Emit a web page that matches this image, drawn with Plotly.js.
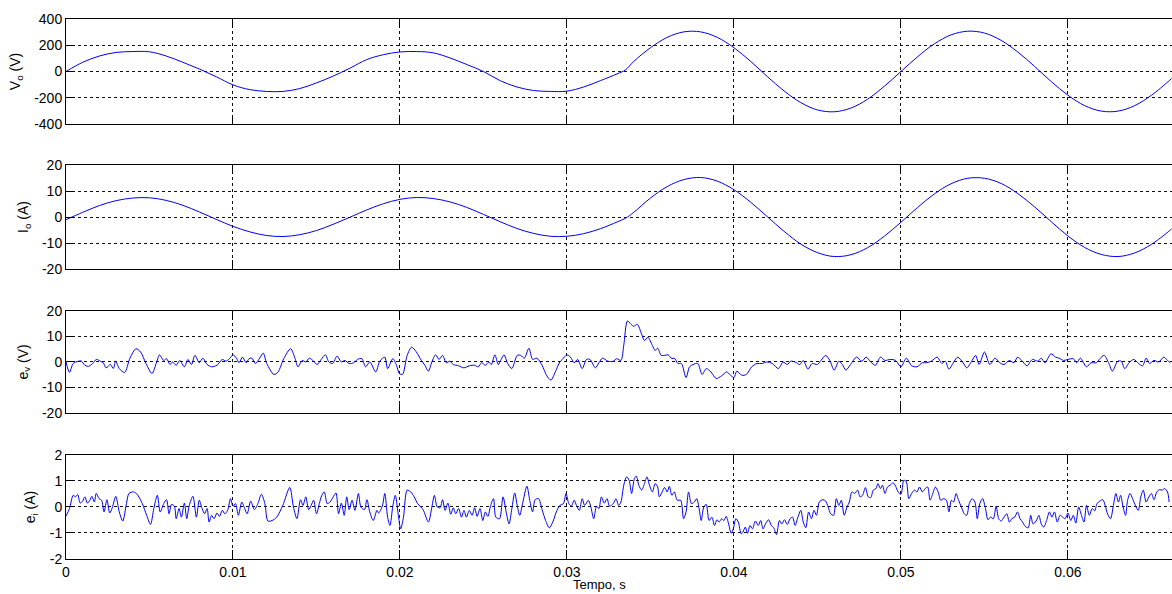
<!DOCTYPE html>
<html>
<head>
<meta charset="utf-8">
<script src="https://cdn.plot.ly/plotly-3.0.1.min.js"></script>
<style>html,body{margin:0;padding:0;background:#fff;}#chart{width:1172px;height:594px;}</style>
</head>
<body>
<div id="chart"></div>
<script>
// time base for output voltage / current (s)
var tSine = [0,0.001,0.002,0.003,0.004,0.005,0.006,0.007,0.008,0.009,0.010,0.011,0.012,0.013,0.014,0.015,0.016,0.017,0.018,0.019,0.020,0.021,0.022,0.023,0.024,0.025,0.026,0.027,0.028,0.029,0.030,0.031,0.032,0.033,0.0335,0.034,0.035,0.036,0.037,0.038,0.039,0.040,0.041,0.042,0.043,0.044,0.045,0.046,0.047,0.048,0.049,0.050,0.051,0.052,0.053,0.054,0.055,0.056,0.057,0.058,0.059,0.060,0.061,0.062,0.063,0.064,0.065,0.066,0.0662];
var vo = [0,70,118,145,152,150,118,70,18,-40,-102,-138,-152,-152,-130,-87,-35,25,90,128,149,152,142,103,53,0,-70,-118,-145,-152,-150,-118,-70,-18,12,77,181,260,302,302,260,181,77,-39,-148,-237,-293,-307,-279,-211,-113,0,113,211,279,307,293,237,148,39,-77,-181,-260,-302,-302,-260,-181,-77,-54];
var io = [-1.0,1.8,4.4,6.3,7.3,7.4,6.4,4.5,1.9,-0.9,-3.6,-5.7,-7.1,-7.5,-6.8,-5.2,-2.8,-0.1,2.7,5.1,6.8,7.5,7.1,5.8,3.7,1.0,-1.8,-4.4,-6.3,-7.4,-7.4,-6.4,-4.5,-1.9,-0.5,1.8,7.3,11.7,14.4,15.2,13.8,10.5,5.7,0.1,-5.5,-10.4,-13.7,-15.2,-14.5,-11.8,-7.4,-2.0,3.7,8.9,12.8,14.9,14.9,12.9,9.0,3.9,-1.8,-7.3,-11.7,-14.4,-15.2,-13.8,-10.5,-5.7,-4.6];

// voltage error e_v (V)
var tEv = [0,0.00021,0.00043,0.00074,0.00091,0.00113,0.00134,0.00160,0.00181,0.00206,0.00223,0.00240,0.00266,0.00283,0.00298,0.00319,0.00351,0.00383,0.00419,0.00447,0.00479,0.00515,0.00543,0.00560,0.00585,0.00602,0.00623,0.00638,0.00660,0.00681,0.00709,0.00730,0.00751,0.00772,0.00798,0.00819,0.00845,0.00872,0.00904,0.00936,0.00957,0.00979,0.01000,0.01021,0.01036,0.01057,0.01079,0.01096,0.01113,0.01134,0.01160,0.01181,0.01202,0.01245,0.01270,0.01304,0.01345,0.01372,0.01389,0.01415,0.01436,0.01457,0.01483,0.01504,0.01528,0.01553,0.01574,0.01596,0.01623,0.01649,0.01670,0.01696,0.01723,0.01745,0.01772,0.01794,0.01819,0.01855,0.01879,0.01909,0.01926,0.01957,0.01979,0.01996,0.02015,0.02043,0.02070,0.02096,0.02128,0.02149,0.02170,0.02191,0.02213,0.02234,0.02255,0.02277,0.02298,0.02319,0.02351,0.02383,0.02415,0.02447,0.02468,0.02489,0.02511,0.02532,0.02547,0.02568,0.02589,0.02606,0.02623,0.02645,0.02670,0.02702,0.02723,0.02745,0.02772,0.02794,0.02819,0.02851,0.02879,0.02904,0.02930,0.02957,0.02972,0.03000,0.03021,0.03043,0.03064,0.03091,0.03117,0.03138,0.03170,0.03191,0.03213,0.03245,0.03277,0.03298,0.03323,0.03340,0.03362,0.03383,0.03400,0.03421,0.03447,0.03464,0.03485,0.03511,0.03528,0.03543,0.03564,0.03585,0.03606,0.03628,0.03643,0.03664,0.03685,0.03713,0.03734,0.03755,0.03783,0.03809,0.03834,0.03862,0.03894,0.03926,0.03957,0.03979,0.04000,0.04017,0.04047,0.04074,0.04106,0.04138,0.04170,0.04196,0.04230,0.04266,0.04294,0.04319,0.04340,0.04366,0.04394,0.04415,0.04443,0.04468,0.04500,0.04521,0.04549,0.04574,0.04600,0.04628,0.04649,0.04670,0.04698,0.04734,0.04766,0.04791,0.04819,0.04847,0.04877,0.04904,0.04936,0.04968,0.05000,0.05032,0.05064,0.05096,0.05128,0.05153,0.05181,0.05217,0.05245,0.05266,0.05287,0.05319,0.05340,0.05372,0.05394,0.05426,0.05447,0.05468,0.05500,0.05532,0.05564,0.05591,0.05617,0.05649,0.05677,0.05698,0.05723,0.05755,0.05787,0.05819,0.05840,0.05862,0.05898,0.05926,0.05947,0.05974,0.06000,0.06032,0.06053,0.06074,0.06111,0.06138,0.06170,0.06191,0.06217,0.06245,0.06266,0.06298,0.06319,0.06340,0.06366,0.06394,0.06423,0.06447,0.06468,0.06489,0.06515,0.06543,0.06574,0.06596,0.06613];
var ev = [0,-4.1,-0.6,0.3,0.4,-1.3,-1.7,-0.6,1.0,0.3,-0.3,-2.3,-1.0,-2.6,0.3,-2.6,-4.1,1.5,5.2,3.9,-0.6,-4.5,0,2.8,0.6,1.3,-1.0,0,-1.3,0.6,-1.9,1.0,-1.0,2.6,-0.3,1.5,-1.0,-1.9,-1.3,1.0,0.3,1.3,2.8,1.5,-0.3,1.9,-0.3,1.3,1.5,-0.6,1.5,3.5,-0.6,-4.9,-3.9,1.3,5.2,1.3,-1.9,0.6,0,1.5,0.3,-1.0,1.0,2.8,0,-0.6,2.3,0,0.6,-0.6,-0.3,1.0,1.3,-1.9,0,-3.9,0.3,1.9,-2.6,1.3,-1.3,-4.5,-4.9,2.6,5.8,4.1,0.6,-1.3,-3.6,0,2.8,1.0,2.6,-0.3,0.3,-1.0,-1.5,-2.3,-1.5,-1.3,-1.9,-0.3,-1.3,0,-1.0,2.8,-1.0,1.0,2.8,-0.6,-2.6,2.6,2.6,1.5,5.4,1.0,1.5,-1.3,-5.4,-7.1,-3.9,0,1.0,2.8,1.9,-0.3,1.0,-2.6,1.0,1.0,-2.3,-0.3,1.5,0.3,0.3,1.3,0.6,6.5,16.1,14.8,14.0,14.8,10.9,8.4,9.7,6.5,4.5,5.4,2.6,2.6,2.8,1.3,1.5,-0.6,-0.6,-6.1,-1.9,-1.0,-0.6,-4.9,-2.6,-3.9,-6.5,-5.4,-3.9,-5.2,-6.1,-3.6,-5.2,-4.9,-1.9,-0.6,-0.6,0,-0.6,-2.6,0,-1.0,0.3,0,-1.0,0.6,-2.8,-0.6,-1.0,0.6,2.6,0.6,-3.2,0.3,-1.0,-3.2,-1.0,1.9,0.3,1.9,0,-1.3,1.9,0.6,1.0,0.6,-1.9,1.5,-1.5,-1.9,-0.3,-0.3,0.3,1.9,-0.6,0.3,-2.8,0.3,1.9,-0.3,-2.3,0.6,2.6,-1.0,3.9,-1.0,1.5,-0.3,-1.0,0.6,-0.3,1.9,0.6,-1.5,1.0,0.3,1.5,-0.3,3.2,1.9,1.5,0.6,1.0,1.3,-0.3,1.5,-1.9,-0.3,-0.3,1.3,2.6,-0.6,-3.6,0.3,0.3,-2.6,-0.3,1.0,-0.6,-1.5,1.5,-0.6,0.6,0,1.9,0.6,-0.3];

// current error e_i (A)
var tEi = [0,0.00021,0.00043,0.00057,0.00070,0.00085,0.00100,0.00113,0.00128,0.00143,0.00155,0.00170,0.00181,0.00198,0.00213,0.00228,0.00245,0.00262,0.00277,0.00298,0.00319,0.00340,0.00362,0.00377,0.00404,0.00426,0.00457,0.00483,0.00506,0.00526,0.00547,0.00564,0.00585,0.00602,0.00617,0.00632,0.00649,0.00660,0.00677,0.00691,0.00709,0.00723,0.00738,0.00760,0.00781,0.00798,0.00815,0.00830,0.00845,0.00857,0.00872,0.00887,0.00904,0.00919,0.00936,0.00951,0.00968,0.00985,0.01000,0.01015,0.01032,0.01053,0.01070,0.01085,0.01106,0.01128,0.01149,0.01170,0.01191,0.01209,0.01234,0.01262,0.01298,0.01340,0.01362,0.01383,0.01404,0.01419,0.01436,0.01453,0.01468,0.01483,0.01500,0.01517,0.01532,0.01547,0.01564,0.01581,0.01602,0.01617,0.01632,0.01649,0.01666,0.01681,0.01696,0.01713,0.01730,0.01751,0.01766,0.01787,0.01802,0.01819,0.01840,0.01862,0.01872,0.01894,0.01909,0.01926,0.01940,0.01957,0.01972,0.01989,0.02004,0.02021,0.02043,0.02064,0.02085,0.02106,0.02138,0.02170,0.02191,0.02206,0.02223,0.02240,0.02255,0.02270,0.02287,0.02304,0.02319,0.02334,0.02351,0.02368,0.02383,0.02398,0.02415,0.02432,0.02447,0.02462,0.02479,0.02496,0.02511,0.02526,0.02543,0.02560,0.02574,0.02596,0.02617,0.02638,0.02653,0.02670,0.02687,0.02702,0.02717,0.02734,0.02760,0.02777,0.02794,0.02809,0.02830,0.02851,0.02872,0.02894,0.02915,0.02936,0.02957,0.02979,0.02994,0.03011,0.03026,0.03043,0.03057,0.03074,0.03091,0.03106,0.03128,0.03143,0.03160,0.03177,0.03191,0.03206,0.03223,0.03240,0.03255,0.03277,0.03294,0.03309,0.03323,0.03340,0.03357,0.03372,0.03387,0.03404,0.03415,0.03430,0.03447,0.03464,0.03479,0.03494,0.03511,0.03528,0.03543,0.03553,0.03570,0.03585,0.03600,0.03613,0.03628,0.03643,0.03660,0.03681,0.03698,0.03713,0.03728,0.03745,0.03762,0.03777,0.03791,0.03804,0.03819,0.03834,0.03851,0.03868,0.03883,0.03898,0.03911,0.03926,0.03940,0.03953,0.03968,0.03983,0.03996,0.04011,0.04026,0.04043,0.04053,0.04068,0.04081,0.04096,0.04111,0.04128,0.04145,0.04160,0.04174,0.04191,0.04208,0.04223,0.04238,0.04255,0.04272,0.04287,0.04302,0.04319,0.04336,0.04351,0.04366,0.04383,0.04400,0.04415,0.04430,0.04447,0.04464,0.04479,0.04494,0.04511,0.04532,0.04549,0.04564,0.04579,0.04596,0.04613,0.04628,0.04643,0.04660,0.04677,0.04691,0.04706,0.04723,0.04740,0.04755,0.04770,0.04787,0.04804,0.04819,0.04834,0.04851,0.04862,0.04877,0.04889,0.04904,0.04919,0.04936,0.04953,0.04968,0.04983,0.05000,0.05017,0.05032,0.05047,0.05064,0.05081,0.05096,0.05111,0.05128,0.05145,0.05160,0.05174,0.05191,0.05206,0.05223,0.05238,0.05255,0.05272,0.05287,0.05302,0.05315,0.05330,0.05345,0.05362,0.05379,0.05394,0.05409,0.05426,0.05443,0.05457,0.05472,0.05489,0.05506,0.05521,0.05536,0.05553,0.05570,0.05585,0.05600,0.05617,0.05634,0.05649,0.05664,0.05681,0.05698,0.05713,0.05728,0.05745,0.05762,0.05777,0.05791,0.05809,0.05826,0.05840,0.05855,0.05872,0.05889,0.05904,0.05919,0.05936,0.05953,0.05968,0.05983,0.06000,0.06017,0.06032,0.06047,0.06064,0.06081,0.06096,0.06111,0.06128,0.06145,0.06160,0.06174,0.06191,0.06209,0.06223,0.06238,0.06255,0.06272,0.06287,0.06302,0.06315,0.06330,0.06345,0.06357,0.06372,0.06387,0.06404,0.06421,0.06436,0.06451,0.06468,0.06485,0.06500,0.06515,0.06532,0.06549,0.06564,0.06579,0.06596,0.06606];
var ei = [-0.35,-0.06,0.45,0.39,0.48,0.15,0.23,0.39,0.15,0.26,0.41,0.19,0.52,0.32,0.26,-0.19,0.28,-0.23,-0.03,0.41,-0.19,-0.54,0.13,0.52,0.58,0.49,0.13,-0.32,-0.67,-0.06,0.45,-0.19,0.13,0.28,-0.26,0.10,0.03,-0.45,-0.06,-0.39,0.15,-0.45,0.06,0.41,-0.39,0.26,-0.06,-0.26,-0.06,-0.58,-0.32,-0.45,-0.23,-0.36,-0.13,-0.26,-0.13,0.32,0.03,0.13,-0.32,0.19,-0.06,-0.26,0.23,-0.10,0.13,0.49,0.13,-0.54,-0.52,-0.39,0.06,0.75,0,-0.45,0.28,0.06,0.39,-0.10,0.06,0.26,-0.26,0.13,0.45,0.58,0.13,0.19,0.41,0.54,-0.26,0.15,-0.32,0.39,-0.10,0.26,-0.13,0.52,0,-0.10,0.28,-0.19,-0.52,-0.13,-0.23,0.03,0.52,-0.39,-0.71,0.03,0.45,-0.26,-0.84,-0.39,0.65,0.58,0.39,0.13,-0.10,-0.58,0,0.45,0,-0.03,0.28,-0.13,0.15,-0.28,-0.03,-0.26,-0.06,-0.39,-0.13,-0.39,-0.13,-0.32,-0.03,-0.36,-0.06,-0.52,-0.19,-0.36,0.06,0.32,-0.39,-0.45,0.39,-0.26,-0.65,-0.06,0.54,0.06,-0.32,0.13,0.80,0.26,-0.19,0.28,0.32,-0.10,-0.52,-0.80,-0.58,-0.19,0.06,0.13,0.52,0.13,0.03,0.26,0.06,-0.13,0.32,0.06,0.26,0,-0.45,0.03,-0.06,0.39,0.15,0.32,0.03,0.13,0.32,0.06,0.19,0.84,1.16,1.03,0.52,1.10,1.19,0.84,0.65,0.90,1.16,0.84,0.58,0.90,0.77,0.39,0.58,0.75,0.58,0.80,0.45,0.58,0.26,0.26,-0.45,-0.19,0.58,0.13,0.19,0.32,-0.06,-0.52,0,0.10,-0.52,-0.39,-0.71,-0.49,-0.58,-0.45,-0.52,-0.36,-0.65,-1.01,-0.84,-0.45,-0.58,-1.03,-0.97,-0.77,-1.01,-0.71,-0.84,-0.54,-0.71,-0.52,-0.84,-0.62,-0.49,-0.71,-0.80,-1.06,-0.52,-0.65,-0.49,-0.67,-0.45,-0.39,-0.71,-0.39,-0.13,-0.58,-0.80,-0.19,-0.45,-0.13,-0.32,0.19,0.28,0.23,0,-0.26,-0.32,0.32,0.06,0.26,-0.32,0,0.19,0.58,0.52,0.65,0.39,0.45,0.75,0.39,0.36,0.65,0.71,0.90,0.71,0.84,0.52,0.77,0.84,0.93,0.80,0.58,0.49,1.03,0.97,0.32,0.52,0.65,0.58,0.77,0.58,0.71,0.77,0.26,0.52,0.77,0.58,0.26,0.32,0.26,-0.19,0.26,0.19,0.52,0.26,0,-0.26,-0.32,0.13,0.32,0.19,-0.45,0.13,0.32,-0.06,-0.49,-0.39,-0.45,0.03,-0.45,-0.54,-0.39,-0.26,-0.58,-0.45,-0.39,-0.19,-0.45,-0.58,-0.75,-0.80,-0.32,-0.65,-0.54,-0.32,-0.65,-0.77,-0.52,-0.19,-0.39,-0.19,-0.58,-0.32,-0.39,-0.45,-0.23,-0.52,-0.32,-0.62,0,-0.32,-0.58,0.06,-0.32,-0.06,-0.15,0.13,0.23,0.28,0.06,-0.28,-0.45,0.06,0.52,0.19,0.45,0,-0.32,0.26,0.52,0.32,0.06,-0.13,0.39,0.65,0.19,0.39,0.52,0.28,0.58,0.67,0.65,0.71,0.58,0.19];

// tick values / labels
var xTicks = [0,0.01,0.02,0.03,0.04,0.05,0.06];
var xTickText = ['0','0.01','0.02','0.03','0.04','0.05','0.06'];
var voTicks = [-400,-200,0,200,400];
var voTickText = ['-400','-200','0','200','400'];
var io20Ticks = [-20,-10,0,10,20];
var io20TickText = ['-20','-10','0','10','20'];
var eiTicks = [-2,-1,0,1,2];
var eiTickText = ['-2','-1','0','1','2'];

var FONT = 'Liberation Sans, Arial, Helvetica, sans-serif';
var blue = '#0000ff';

function tr(x, y, ax, smooth) {
  return {x: x, y: y, xaxis: 'x' + ax, yaxis: 'y' + ax, type: 'scatter', mode: 'lines',
    line: {color: blue, width: 1, shape: 'spline', smoothing: smooth}, hoverinfo: 'skip', showlegend: false};
}
var data = [
  tr(tSine, vo, '', 1.0),
  tr(tSine, io, '2', 1.0),
  tr(tEv, ev, '3', 0.8),
  tr(tEi, ei, '4', 0.8)
];

function xax(anchor, labels) {
  return {anchor: anchor, domain: [0, 1], range: [0, 0.06623], tickmode: 'array', tickvals: xTicks, ticktext: xTickText,
    showticklabels: labels, ticks: 'inside', ticklen: 9, tickcolor: '#000', tickwidth: 1,
    showline: true, linecolor: '#000', linewidth: 1, mirror: 'ticks',
    showgrid: true, gridcolor: '#111', gridwidth: 1, griddash: '3px,3px', zeroline: false,
    tickfont: {family: FONT, size: 14, color: '#000'}, fixedrange: true};
}
function yax(anchor, dom, rng, tv, tt, title) {
  return {anchor: anchor, domain: dom, range: rng, tickmode: 'array', tickvals: tv, ticktext: tt,
    ticks: 'inside', ticklen: 9, tickcolor: '#000', tickwidth: 1,
    showline: true, linecolor: '#000', linewidth: 1, mirror: false,
    showgrid: true, gridcolor: '#111', gridwidth: 1, griddash: '3px,3px', zeroline: false,
    tickfont: {family: FONT, size: 14, color: '#000'}, fixedrange: true,
    title: {text: title, font: {family: FONT, size: 14, color: '#000'}, standoff: 10}};
}

var layout = {
  width: 1172, height: 594,
  margin: {l: 66, r: 0, t: 19, b: 35},
  paper_bgcolor: '#fff', plot_bgcolor: '#fff',
  showlegend: false,
  xaxis: xax('y', false),
  xaxis2: xax('y2', false),
  xaxis3: xax('y3', false),
  xaxis4: xax('y4', true),
  yaxis: yax('x', [0.8056, 1.0], [-400, 400], voTicks, voTickText, 'V<sub>o</sub> (V)'),
  yaxis2: yax('x2', [0.5370, 0.7296], [-20, 20], io20Ticks, io20TickText, 'I<sub>o</sub> (A)'),
  yaxis3: yax('x3', [0.2704, 0.4593], [-20, 20], io20Ticks, io20TickText, 'e<sub>v</sub> (V)'),
  yaxis4: yax('x4', [0, 0.1926], [-2, 2], eiTicks, eiTickText, 'e<sub>i</sub> (A)'),
  annotations: [{text: 'Tempo, s', xref: 'paper', yref: 'paper', x: 0.4828, y: -0.0465,
    xanchor: 'center', yanchor: 'middle', showarrow: false, font: {family: FONT, size: 13, color: '#000'}}]
};

Plotly.newPlot('chart', data, layout, {displayModeBar: false, staticPlot: true});
</script>
</body>
</html>
